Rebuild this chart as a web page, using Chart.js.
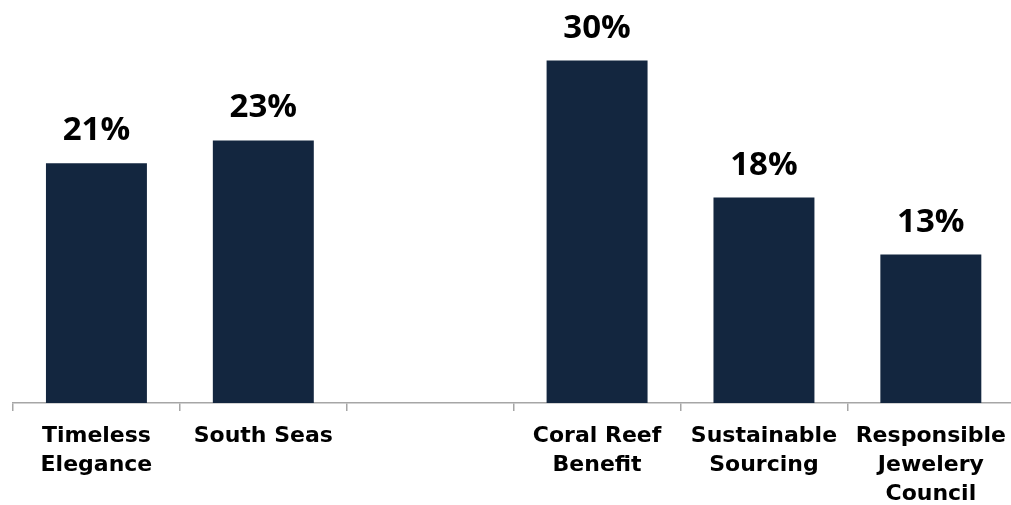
<!DOCTYPE html>
<html>
<head>
<meta charset="utf-8">
<script src="https://cdn.jsdelivr.net/npm/chart.js@4/dist/chart.umd.min.js"></script>
<style>
    html, body { margin: 0; padding: 0; background: #fff; overflow: hidden; }
    #wrap { width: 1017px; height: 505px; }
</style>
</head>
<body>
<div id="wrap"><canvas id="barChart" width="1017" height="505"></canvas></div>
<script>
// categories (empty slot keeps the gap between the two groups)
const categories = [
    ['Timeless', 'Elegance'],
    ['South Seas'],
    [''],
    ['Coral Reef', 'Benefit'],
    ['Sustainable', 'Sourcing'],
    ['Responsible', 'Jewelery', 'Council']
];
const shares = [21, 23, null, 30, 18, 13];

const barColor = '#13263f';
const axisColor = '#a6a6a6';

// percentage labels above each bar
const valueLabels = {
    id: 'valueLabels',
    afterDatasetsDraw(chart) {
        const ctx = chart.ctx;
        const meta = chart.getDatasetMeta(0);
        ctx.save();
        ctx.font = 'bold 33px "Open Sans"';
        ctx.fillStyle = '#000';
        ctx.textAlign = 'center';
        ctx.textBaseline = 'alphabetic';
        meta.data.forEach((bar, i) => {
            const v = shares[i];
            if (v === null) return;
            ctx.fillText(v + '%', bar.x, bar.y - 23);
        });
        ctx.restore();
    }
};

new Chart(document.getElementById('barChart').getContext('2d'), {
    type: 'bar',
    data: {
        labels: categories,
        datasets: [{
            data: shares,
            backgroundColor: barColor,
            barPercentage: 0.605,
            categoryPercentage: 1
        }]
    },
    options: {
        responsive: false,
        animation: false,
        layout: { padding: { left: 13, right: 0, top: 0, bottom: 0 } },
        plugins: {
            legend: { display: false },
            tooltip: { enabled: false }
        },
        scales: {
            x: {
                afterFit(scale) { scale.height = 102; },
                border: { display: true, color: axisColor, width: 1.5 },
                grid: {
                    offset: true,
                    drawOnChartArea: false,
                    drawTicks: true,
                    tickLength: 8,
                    color: axisColor,
                    lineWidth: 1.5
                },
                ticks: {
                    color: '#000',
                    padding: 11,
                    maxRotation: 0,
                    autoSkip: false,
                    font: { family: '"DejaVu Sans"', weight: 'bold', size: 22, lineHeight: 1.32 }
                }
            },
            y: {
                display: false,
                min: 0,
                max: 35.3
            }
        }
    },
    plugins: [valueLabels]
});
</script>
</body>
</html>
